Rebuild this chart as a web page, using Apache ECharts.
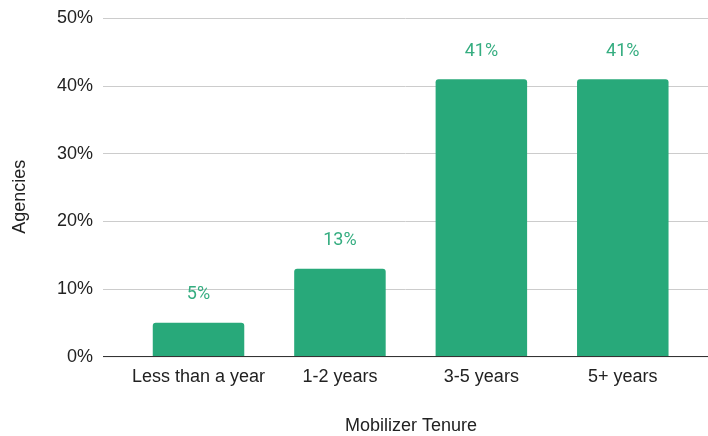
<!DOCTYPE html>
<html>
<head>
<meta charset="utf-8">
<script src="https://cdn.jsdelivr.net/npm/echarts@6/dist/echarts.min.js"></script>
<style>html,body{margin:0;padding:0;background:#fff}#c{width:708px;height:436px}</style>
</head>
<body>
<div id="c"></div>
<script>
const categories = ['Less than a year', '1-2 years', '3-5 years', '5+ years'];
const agencies = [5, 13, 41, 41];
const yTicks = [0, 10, 20, 30, 40, 50];
const xTitle = 'Mobilizer Tenure';
const yTitle = 'Agencies';

const chart = echarts.init(document.getElementById('c'), null, {renderer: 'canvas'});
const axisFont = {fontFamily: 'Liberation Sans, Arial, sans-serif', fontSize: 18, color: '#222'};
chart.setOption({
  animation: false,
  grid: [
    {left: 103, right: 0, top: 18.3, bottom: 79.3},
    {left: 127.8, right: 14.5, top: 18.3, bottom: 79.3}
  ],
  xAxis: [
    {gridIndex: 0, type: 'value', min: 0, max: 1, show: true,
     axisLine: {show: false}, axisTick: {show: false}, axisLabel: {show: false}, splitLine: {show: false}},
    {gridIndex: 1, type: 'category', data: categories,
     axisLine: {show: false}, axisTick: {show: false},
     axisLabel: Object.assign({margin: 11, interval: 0}, axisFont)}
  ],
  yAxis: [
    {gridIndex: 0, type: 'value', min: yTicks[0], max: yTicks[yTicks.length - 1], interval: 10,
     axisLine: {show: false}, axisTick: {show: false},
     axisLabel: Object.assign({margin: 10, formatter: v => v + '%'}, axisFont),
     splitLine: {lineStyle: {color: '#cccccc', width: 1}}},
    {gridIndex: 1, type: 'value', min: yTicks[0], max: yTicks[yTicks.length - 1], show: false}
  ],
  series: [
    {type: 'line', xAxisIndex: 0, yAxisIndex: 0, data: [[0, 0], [1, 0]], symbol: 'none',
     lineStyle: {color: '#333333', width: 1.3}, silent: true, z: 5},
    {type: 'bar', xAxisIndex: 1, yAxisIndex: 1, data: agencies, barWidth: 91.5,
     itemStyle: {color: '#28a97a', borderRadius: [3, 3, 0, 0]},
     label: {show: true, position: 'top', distance: 19, formatter: p => p.value + '%',
       fontFamily: 'Roboto, sans-serif', fontSize: 18, lineHeight: 18, color: '#35ad80'}}
  ],
  graphic: [
    {type: 'text', style: {text: xTitle, x: 411, y: 426, align: 'center', verticalAlign: 'middle',
      font: '18px "Liberation Sans", Arial, sans-serif', fill: '#222'}},
    {type: 'text', x: 20, y: 196.7, rotation: Math.PI / 2,
     style: {text: yTitle, x: 0, y: 0, align: 'center', verticalAlign: 'middle',
      font: '18px "Liberation Sans", Arial, sans-serif', fill: '#222'}}
  ]
});
</script>
</body>
</html>
